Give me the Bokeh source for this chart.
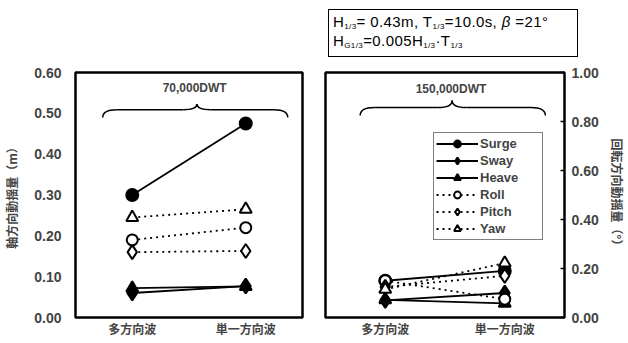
from bokeh.plotting import figure
from bokeh.models import (FactorRange, Range1d, LinearAxis, FixedTicker, NumeralTickFormatter,
                          Label, Legend, LegendItem, Div)
from bokeh.layouts import row, column
from bokeh.embed import file_html
from bokeh.resources import INLINE

categories = ["多方向波", "単一方向波"]
series = ["Surge", "Sway", "Heave", "Roll", "Pitch", "Yaw"]
left_values = {
    "Surge": [0.30, 0.475],
    "Sway": [0.060, 0.077],
    "Heave": [0.072, 0.076],
    "Roll": [0.19, 0.22],
    "Pitch": [0.160, 0.163],
    "Yaw": [0.245, 0.265],
}
right_values = {
    "Surge": [0.150, 0.190],
    "Sway": [0.070, 0.100],
    "Heave": [0.072, 0.058],
    "Roll": [0.150, 0.075],
    "Pitch": [0.125, 0.170],
    "Yaw": [0.115, 0.222],
}
left_ticks = [0.0, 0.1, 0.2, 0.3, 0.4, 0.5, 0.6]
right_ticks = [0.0, 0.2, 0.4, 0.6, 0.8, 1.0]

styles = {
    "Surge": dict(marker="circle", fill="black", dash="solid", size=12),
    "Sway": dict(marker="diamond", fill="black", dash="solid", size=15),
    "Heave": dict(marker="triangle", fill="black", dash="solid", size=12),
    "Roll": dict(marker="circle", fill="white", dash="2 4", size=11),
    "Pitch": dict(marker="diamond", fill="white", dash="2 4", size=14),
    "Yaw": dict(marker="triangle", fill="white", dash="2 4", size=12),
}

TICK_FONT = "Liberation Sans"
CJK = "Noto Sans CJK JP"


def base_fig(ymax, width, height, left_border, right_border, top_border):
    p = figure(x_range=FactorRange(*categories), y_range=Range1d(0, ymax),
               width=width, height=height,
               min_border_left=left_border, min_border_right=right_border,
               min_border_top=top_border, min_border_bottom=24,
               output_backend="svg", toolbar_location=None)
    p.grid.visible = False
    p.outline_line_color = "black"
    p.outline_line_width = 2.5
    p.background_fill_color = "white"
    p.border_fill_color = "white"
    xa = p.xaxis[0]
    xa.axis_line_color = None
    xa.major_tick_line_color = None
    xa.major_label_standoff = -4
    xa.major_label_text_font = CJK
    xa.major_label_text_font_size = "12px"
    xa.major_label_text_font_style = "bold"
    return p


def style_y(ax, label, tick_standoff, label_standoff):
    ax.axis_line_color = None
    ax.major_tick_line_color = None
    ax.minor_tick_line_color = None
    ax.major_label_standoff = tick_standoff
    ax.major_label_text_font = TICK_FONT
    ax.major_label_text_font_size = "14px"
    ax.major_label_text_font_style = "bold"
    ax.axis_label = label
    ax.axis_label_text_font = CJK
    ax.axis_label_text_font_size = "12px"
    ax.axis_label_text_font_style = "bold"
    ax.axis_label_standoff = label_standoff


def draw_series(p, values):
    items = []
    for s in series:
        st = styles[s]
        ys = values[s]
        lr = p.line(categories, ys, line_color="black", line_width=1.8, line_dash=st["dash"])
        sr = p.scatter(categories, ys, marker=st["marker"], size=st["size"],
                       fill_color=st["fill"], line_color="black", line_width=2)
        items.append(LegendItem(label=s, renderers=[lr, sr]))
    return items


def brace(p, x0, x1, xc, y_end, y_mid, y_tip, rx):
    kw = dict(line_color="black", line_width=1.5)
    p.quadratic(x0=[x0], y0=[y_end], x1=[x0 + rx], y1=[y_mid], cx=[x0], cy=[y_mid], **kw)
    p.segment(x0=[x0 + rx], y0=[y_mid], x1=[xc - rx], y1=[y_mid], **kw)
    p.quadratic(x0=[xc - rx], y0=[y_mid], x1=[xc], y1=[y_tip], cx=[xc], cy=[y_mid], **kw)
    p.quadratic(x0=[xc], y0=[y_tip], x1=[xc + rx], y1=[y_mid], cx=[xc], cy=[y_mid], **kw)
    p.segment(x0=[xc + rx], y0=[y_mid], x1=[x1 - rx], y1=[y_mid], **kw)
    p.quadratic(x0=[x1 - rx], y0=[y_mid], x1=[x1], y1=[y_end], cx=[x1], cy=[y_mid], **kw)


# ---------------- left figure ----------------
p1 = base_fig(0.6, 313, 341, 70, 11, 72)
ya = p1.yaxis[0]
ya.ticker = FixedTicker(ticks=left_ticks)
ya.formatter = NumeralTickFormatter(format="0.00")
style_y(ya, "軸方向動揺量（m）", 8, 11)
draw_series(p1, left_values)
brace(p1, 0.24, 1.87, 1.07, 0.49, 0.509, 0.523, 0.12)
p1.add_layout(Label(x=1.05, y=0.545, text="70,000DWT", text_align="center",
                    text_baseline="bottom", text_font=TICK_FONT, text_font_size="12px",
                    text_font_style="bold"))

# ---------------- header with parameter box ----------------
sub = '<span style="font-size:8px;position:relative;top:2px;">%s</span>'
header_html = (
    '<div style="position:relative;width:315px;height:64px;">'
    '<div style="position:absolute;left:15px;top:9px;width:250px;height:48px;'
    'border:1.5px solid black;box-sizing:border-box;"></div>'
    '<div style="position:absolute;left:20px;top:14px;font-family:\'Liberation Sans\';'
    'font-size:15px;line-height:16px;white-space:nowrap;letter-spacing:0.4px;color:black;">'
    'H' + sub % '1/3' + '=&nbsp;0.43m, T' + sub % '1/3' + '=10.0s, <i>β</i> =21°<br>'
    'H' + sub % 'G1/3' + '=0.005H' + sub % '1/3' + '·T' + sub % '1/3' +
    '</div></div>'
)
hdr = Div(text=header_html, width=315, height=64, margin=0)

# ---------------- right figure ----------------
p2 = base_fig(1.0, 315, 277, 12, 62, 8)
p2.yaxis.visible = False
ra = LinearAxis(ticker=FixedTicker(ticks=right_ticks), formatter=NumeralTickFormatter(format="0.00"))
style_y(ra, "回転方向動揺量（°）", 11, 7)
ra.major_tick_line_color = "black"
ra.major_tick_line_width = 1.5
ra.major_tick_in = 4
ra.major_tick_out = 0
ra.major_label_standoff = 7
p2.add_layout(ra, "right")
items = draw_series(p2, right_values)
brace(p2, 0.29, 1.84, 1.06, 0.824, 0.857, 0.886, 0.12)
p2.add_layout(Label(x=1.05, y=0.905, text="150,000DWT", text_align="center",
                    text_baseline="bottom", text_font=TICK_FONT, text_font_size="12px",
                    text_font_style="bold"))

legend = Legend(items=items, location=(108, 77))
legend.border_line_color = "black"
legend.border_line_width = 1.5
legend.background_fill_alpha = 1
legend.glyph_width = 42
legend.glyph_height = 17
legend.label_height = 13
legend.label_width = 60
legend.spacing = 0
legend.padding = 2
legend.margin = 0
legend.label_standoff = 2
legend.label_text_font = TICK_FONT
legend.label_text_font_size = "13px"
legend.label_text_font_style = "bold"
p2.add_layout(legend, "center")

layout = row(p1, column(hdr, p2, spacing=0), spacing=0)
open("out.html", "w").write(file_html(layout, INLINE))
